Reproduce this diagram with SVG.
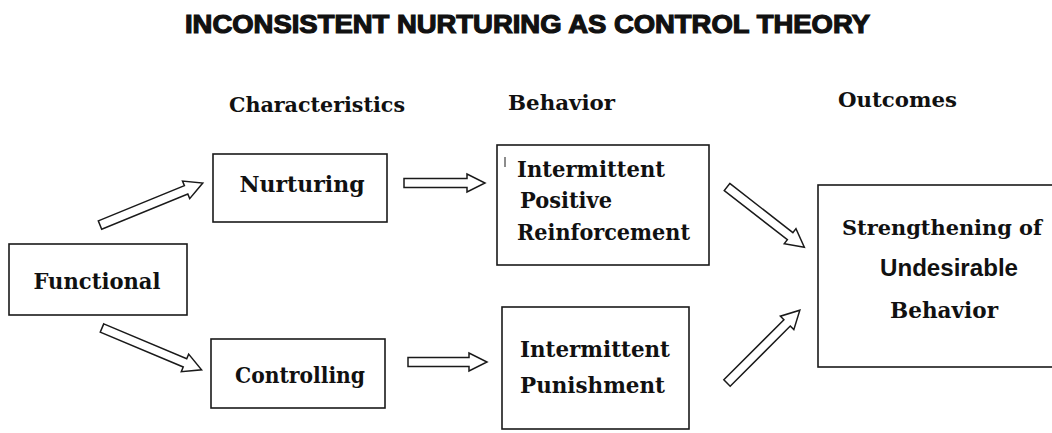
<svg xmlns="http://www.w3.org/2000/svg" width="1052" height="433" viewBox="0 0 1052 433">
<style>
.bg{fill:#ffffff}
.box{fill:#ffffff;stroke:#1a1a1a;stroke-width:1.6}
.arrow{fill:#ffffff;stroke:#1a1a1a;stroke-width:1.5;stroke-linejoin:miter}
.t{font-family:"DejaVu Serif","Liberation Serif",serif;font-weight:bold;fill:#111111}
.lbl{font-size:23px}
.hdr{font-size:20px}
.sans{font-family:"Liberation Sans","Arial",sans-serif;font-weight:bold;fill:#111111;font-size:24px}
.title{font-family:"Liberation Sans","Arial",sans-serif;font-weight:900;fill:#111111;stroke:#111111;stroke-width:1.2;font-size:26px}
</style>
<rect class="bg" x="0" y="0" width="1052" height="433"/>
<text class="title" x="185" y="33" textLength="685" lengthAdjust="spacingAndGlyphs">INCONSISTENT NURTURING AS CONTROL THEORY</text>
<g id="headers">
<text class="t hdr" x="229" y="112" textLength="176" lengthAdjust="spacingAndGlyphs">Characteristics</text>
<text class="t hdr" x="508" y="110" textLength="107" lengthAdjust="spacingAndGlyphs">Behavior</text>
<text class="t hdr" x="838" y="107" textLength="119" lengthAdjust="spacingAndGlyphs">Outcomes</text>
</g>
<g id="connectors">
<path class="arrow" transform="translate(100,225) rotate(-22.2)" d="M0,-4.5 H93 V-9.5 L111,0 L93,9.5 V4.5 H0 Z"/>
<path class="arrow" transform="translate(102,328) rotate(22.8)" d="M0,-4.5 H90 V-9.5 L108,0 L90,9.5 V4.5 H0 Z"/>
<path class="arrow" transform="translate(404,183)" d="M0,-4.5 H63 V-9 L81,0 L63,9 V4.5 H0 Z"/>
<path class="arrow" transform="translate(408,362)" d="M0,-4.5 H61 V-9 L79,0 L61,9 V4.5 H0 Z"/>
<path class="arrow" transform="translate(727,187) rotate(37.9)" d="M0,-4.5 H80 V-9.5 L98,0 L80,9.5 V4.5 H0 Z"/>
<path class="arrow" transform="translate(727,383) rotate(-45)" d="M0,-4.5 H85 V-9.5 L103,0 L85,9.5 V4.5 H0 Z"/>
</g>
<g id="functional">
<rect class="box" x="9" y="244" width="178" height="71"/>
<text class="t lbl" x="97" y="289" text-anchor="middle" textLength="127" lengthAdjust="spacingAndGlyphs">Functional</text>
</g>
<g id="nurturing">
<rect class="box" x="213" y="154" width="174" height="68"/>
<text class="t lbl" x="302" y="192" text-anchor="middle" textLength="125" lengthAdjust="spacingAndGlyphs">Nurturing</text>
</g>
<g id="controlling">
<rect class="box" x="211" y="339" width="174" height="69"/>
<text class="t lbl" x="300" y="383" text-anchor="middle" textLength="130" lengthAdjust="spacingAndGlyphs">Controlling</text>
</g>
<g id="ipr">
<rect class="box" x="497" y="145" width="212" height="120"/>
<line x1="505" y1="157" x2="505" y2="167" stroke="#1a1a1a" stroke-width="1"/>
<text class="t lbl" x="517" y="177" textLength="148" lengthAdjust="spacingAndGlyphs">Intermittent</text>
<text class="t lbl" x="520" y="208" textLength="92" lengthAdjust="spacingAndGlyphs">Positive</text>
<text class="t lbl" x="517" y="240" textLength="173" lengthAdjust="spacingAndGlyphs">Reinforcement</text>
</g>
<g id="ip">
<rect class="box" x="502" y="307" width="187" height="122"/>
<text class="t lbl" x="520" y="357" textLength="150" lengthAdjust="spacingAndGlyphs">Intermittent</text>
<text class="t lbl" x="520" y="393" textLength="145" lengthAdjust="spacingAndGlyphs">Punishment</text>
</g>
<g id="outcome">
<rect class="box" x="818" y="185" width="240" height="182"/>
<text class="t" x="842" y="235" font-size="20" textLength="200" lengthAdjust="spacingAndGlyphs">Strengthening of</text>
<text class="sans" x="880" y="276" textLength="138" lengthAdjust="spacingAndGlyphs">Undesirable</text>
<text class="t lbl" x="890" y="318" textLength="108" lengthAdjust="spacingAndGlyphs">Behavior</text>
</g>
</svg>
